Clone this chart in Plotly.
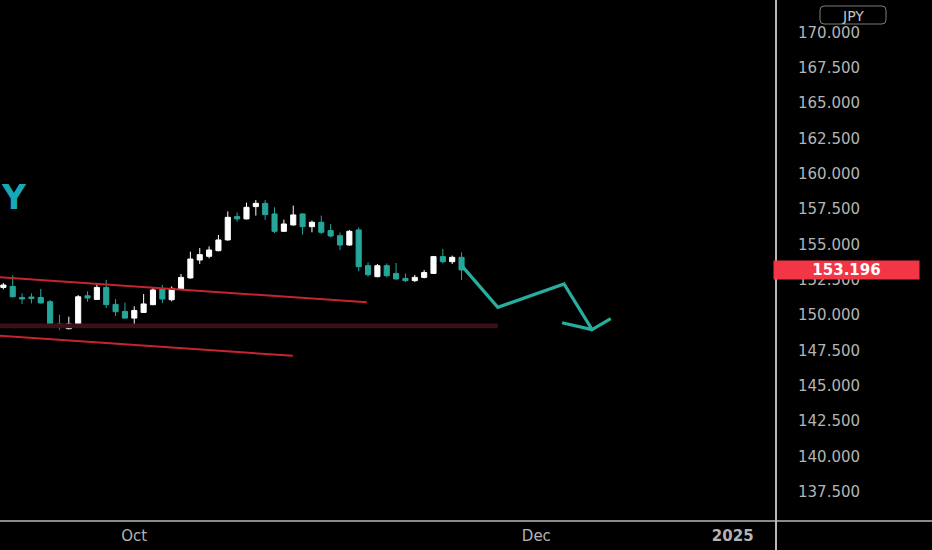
import plotly.graph_objects as go

# ---------------- data ----------------
dates = [
    "2024-09-11", "2024-09-12", "2024-09-13", "2024-09-16", "2024-09-17", "2024-09-18",
    "2024-09-19", "2024-09-20", "2024-09-23", "2024-09-24", "2024-09-25", "2024-09-26",
    "2024-09-27", "2024-09-30", "2024-10-01", "2024-10-02", "2024-10-03", "2024-10-04",
    "2024-10-07", "2024-10-08", "2024-10-09", "2024-10-10", "2024-10-11", "2024-10-14",
    "2024-10-15", "2024-10-16", "2024-10-17", "2024-10-18", "2024-10-21", "2024-10-22",
    "2024-10-23", "2024-10-24", "2024-10-25", "2024-10-28", "2024-10-29", "2024-10-30",
    "2024-10-31", "2024-11-01", "2024-11-04", "2024-11-05", "2024-11-06", "2024-11-07",
    "2024-11-08", "2024-11-11", "2024-11-12", "2024-11-13", "2024-11-14", "2024-11-15",
    "2024-11-18", "2024-11-19",
]
opens = [151.96, 152.03, 151.25, 151.28, 151.25, 150.95, 149.37, 149.04, 149.32, 151.37,
         151.11, 151.96, 150.76, 150.26, 149.79, 150.19, 150.74, 151.85, 151.09, 151.85,
         152.63, 153.90, 154.16, 154.56, 155.32, 156.97, 156.81, 157.68, 157.91, 157.16,
         155.93, 156.38, 157.16, 156.26, 156.57, 155.98, 155.62, 154.96, 156.03, 153.50,
         152.72, 153.50, 152.95, 152.60, 152.44, 152.67, 152.95, 154.14, 153.78, 154.09]
highs = [152.27, 152.81, 151.54, 151.54, 151.85, 151.07, 150.03, 149.89, 151.42, 151.68,
         152.17, 152.49, 151.14, 150.88, 150.62, 151.49, 151.96, 152.13, 152.03, 152.91,
         154.49, 154.75, 154.87, 155.67, 157.34, 157.27, 157.96, 158.15, 158.15, 157.63,
         156.76, 157.75, 157.20, 156.69, 157.04, 156.45, 155.84, 156.03, 156.21, 153.73,
         153.62, 153.66, 153.69, 152.95, 152.84, 153.19, 154.19, 154.68, 154.21, 154.44]
lows = [151.82, 151.25, 150.79, 150.83, 150.83, 149.13, 148.95, 148.99, 149.27, 150.95,
        151.09, 150.50, 149.94, 149.75, 149.18, 150.15, 150.70, 150.85, 150.97, 151.80,
        152.58, 153.62, 154.02, 154.51, 155.27, 156.61, 156.76, 157.04, 156.74, 155.81,
        155.89, 156.33, 155.69, 155.86, 155.74, 155.50, 154.61, 154.92, 153.10, 152.72,
        152.67, 152.67, 152.51, 152.34, 152.34, 152.60, 152.91, 153.66, 153.62, 152.49]
closes = [152.13, 151.30, 151.14, 151.18, 150.86, 149.18, 149.18, 149.37, 151.30, 151.21,
          151.96, 150.74, 150.24, 149.79, 150.33, 150.79, 151.78, 151.14, 151.89, 152.67,
          153.97, 154.28, 154.61, 155.32, 156.92, 156.81, 157.63, 157.91, 157.11, 155.93,
          156.45, 157.09, 156.26, 156.57, 155.86, 155.60, 154.96, 155.93, 153.43, 152.86,
          153.50, 152.79, 152.56, 152.44, 152.67, 153.02, 154.14, 153.78, 154.09, 153.196]

last_price = 153.196

# projected path (hand drawn)
proj_dates = ["2024-11-19 02:00", "2024-11-22 21:00", "2024-12-03 23:00",
              "2024-12-06 23:00", "2024-12-10 23:00"]
proj_values = [153.45, 150.55, 152.20, 148.97, 149.75]
arrow_dates = ["2024-12-03 18:00", "2024-12-06 23:00"]
arrow_values = [149.46, 148.97]

# trend lines
upper_line_dates = ["2024-09-10 15:00", "2024-11-04 21:00"]
upper_line_values = [152.68, 150.91]
lower_line_dates = ["2024-09-10 15:00", "2024-10-23 23:00"]
lower_line_values = [148.54, 147.12]

# support band
band_dates = ["2024-09-10 15:00", "2024-11-22 21:00"]
band_low, band_high = 149.07, 149.41

# axes
y_ticks = [137.5, 140.0, 142.5, 145.0, 147.5, 150.0, 152.5, 155.0, 157.5,
           160.0, 162.5, 165.0, 167.5, 170.0]
x_tick_dates = ["2024-10-01", "2024-11-29", "2024-12-30"]
x_tick_labels = ["Oct", "Dec", "<b>2025</b>"]
x_range = ["2024-09-10 15:22", "2025-01-03 12:29"]
y_range = [135.43, 172.30]

# ---------------- figure ----------------
W, H = 932, 550
ML, MR, MT, MB = 0, 157, 0, 29
PW, PH = W - ML - MR, H - MT - MB

def px(x):
    return x / PW

def py(y):
    return 1 - y / PH

TEAL = "#26a69a"
fig = go.Figure()

# band
fig.add_trace(go.Scatter(
    x=[band_dates[0], band_dates[1], band_dates[1], band_dates[0], band_dates[0]],
    y=[band_low, band_low, band_high, band_high, band_low],
    fill="toself", fillcolor="#3a1117", line=dict(width=0, color="#3a1117"),
    mode="lines", hoverinfo="skip", showlegend=False))

# red trend lines
for xs, ys in [(upper_line_dates, upper_line_values), (lower_line_dates, lower_line_values)]:
    fig.add_trace(go.Scatter(x=xs, y=ys, mode="lines",
                             line=dict(color="#c8242b", width=2),
                             hoverinfo="skip", showlegend=False))

fig.add_trace(go.Candlestick(
    x=dates, open=opens, high=highs, low=lows, close=closes,
    increasing=dict(line=dict(color="#ffffff", width=1), fillcolor="#ffffff"),
    decreasing=dict(line=dict(color=TEAL, width=1), fillcolor=TEAL),
    hoverinfo="skip", showlegend=False))

# projection
fig.add_trace(go.Scatter(x=proj_dates, y=proj_values, mode="lines",
                         line=dict(color="#27ae9e", width=3.2),
                         hoverinfo="skip", showlegend=False))
fig.add_trace(go.Scatter(x=arrow_dates, y=arrow_values, mode="lines",
                         line=dict(color="#27ae9e", width=3.2),
                         hoverinfo="skip", showlegend=False))

# frame lines
shapes = [
    dict(type="line", xref="paper", yref="paper", x0=1.0013, x1=1.0013, y0=-0.07, y1=1.01,
         line=dict(color="#b8b8b8", width=2)),
    dict(type="line", xref="paper", yref="paper", x0=-0.01, x1=W / PW + 0.01, y0=0, y1=0,
         line=dict(color="#b8b8b8", width=1.5)),
]
# JPY rounded box
x0, x1, y0, y1, r = 820, 886, 6, 24, 4
path = (f"M {px(x0 + r)} {py(y0)} L {px(x1 - r)} {py(y0)} "
        f"Q {px(x1)} {py(y0)} {px(x1)} {py(y0 + r)} L {px(x1)} {py(y1 - r)} "
        f"Q {px(x1)} {py(y1)} {px(x1 - r)} {py(y1)} L {px(x0 + r)} {py(y1)} "
        f"Q {px(x0)} {py(y1)} {px(x0)} {py(y1 - r)} L {px(x0)} {py(y0 + r)} "
        f"Q {px(x0)} {py(y0)} {px(x0 + r)} {py(y0)} Z")
shapes.append(dict(type="path", xref="paper", yref="paper", path=path,
                   line=dict(color="#7c7c7c", width=1), fillcolor="rgba(0,0,0,0)"))

annotations = [
    dict(text="JPY", xref="paper", yref="paper", x=px(853), y=py(15.5),
         xanchor="center", yanchor="middle",
         showarrow=False, font=dict(family="DejaVu Sans", size=14, color="#c4c4c4")),
    dict(text=f"<b>{last_price:.3f}</b>", xref="paper", yref="y", x=px(773), y=last_price,
         xanchor="left", yanchor="middle", showarrow=False, width=143, height=16,
         align="center", bgcolor="#f23645", borderpad=1,
         font=dict(family="DejaVu Sans", size=15, color="#ffffff")),
    dict(text="<b>Y</b>", xref="paper", yref="paper", x=px(14), y=py(197),
         xanchor="center", yanchor="middle",
         showarrow=False, font=dict(family="DejaVu Sans", size=33, color="#17a9b7")),
]

fig.update_layout(
    width=W, height=H,
    margin=dict(l=ML, r=MR, t=MT, b=MB),
    paper_bgcolor="#000000", plot_bgcolor="#000000",
    showlegend=False, boxgap=0.22,
    shapes=shapes, annotations=annotations,
    xaxis=dict(type="date", range=x_range,
               rangebreaks=[dict(bounds=["sat", "mon"])],
               rangeslider=dict(visible=False),
               showgrid=False, zeroline=False, showline=False,
               tickmode="array", tickvals=x_tick_dates, ticktext=x_tick_labels,
               ticks="", ticklabelstandoff=4,
               tickfont=dict(family="DejaVu Sans", size=15, color="#b4b4b4")),
    yaxis=dict(side="right", range=y_range, showgrid=False, zeroline=False,
               showline=False, tickmode="array", tickvals=y_ticks,
               ticktext=[f"{v:.3f}" for v in y_ticks], ticks="",
               ticklabelstandoff=22,
               tickfont=dict(family="DejaVu Sans", size=15, color="#b4b4b4")),
)

fig.write_html(
    "out.html",
    config={"displayModeBar": False, "staticPlot": True},
    post_script="document.body.style.margin='0';document.body.style.background='#000';"
                "document.documentElement.style.overflow='hidden';",
)
